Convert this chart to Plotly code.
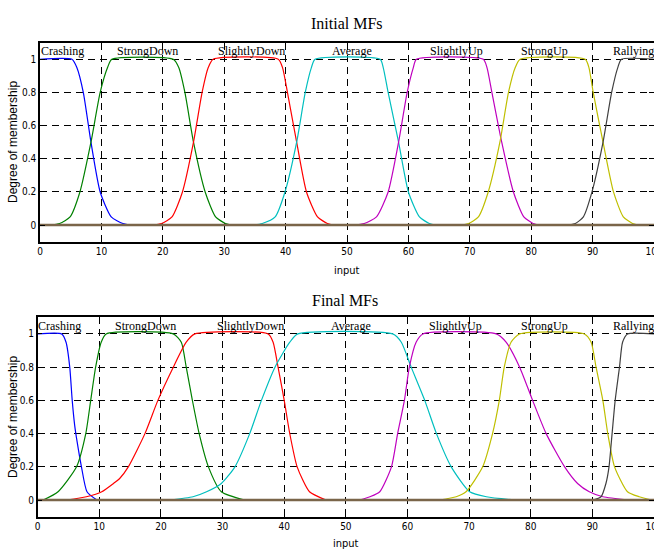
import plotly.graph_objects as go

# ---------------- data ----------------
mf_names = ["Crashing", "StrongDown", "SlightlyDown", "Average", "SlightlyUp", "StrongUp", "Rallying"]
mf_colors = ["#0000ff", "#008000", "#ff0000", "#00bfbf", "#bf00bf", "#bfbf00", "#404040"]
label_x = [3.6, 17.5, 34.5, 50.8, 67.8, 82.2, 96.6]

# Initial MFs (support region; outside it every MF is 0)
init_crashing_x = [0, 5.2, 6.0, 7.05, 8.3, 9.8, 11.6, 13.5, 15]
init_crashing_y = [1, 1, 0.95, 0.8, 0.5, 0.2, 0.05, 0.01, 0]
init_strongdown_x = [1.6, 3.2, 4.9, 6.5, 8.3, 9.8, 11.0, 11.7, 21.7, 22.6, 23.6, 25.0, 26.9, 28.6, 30.2, 31.5]
init_strongdown_y = [0, 0.01, 0.05, 0.2, 0.5, 0.8, 0.95, 1, 1, 0.95, 0.8, 0.5, 0.2, 0.05, 0.01, 0]
init_slightlydown_x = [18.2, 19.8, 21.5, 23.2, 25.0, 26.4, 27.4, 28.2, 38.8, 39.5, 40.3, 41.8, 43.4, 45.2, 46.8, 48]
init_slightlydown_y = [0, 0.01, 0.05, 0.2, 0.5, 0.8, 0.95, 1, 1, 0.95, 0.8, 0.5, 0.2, 0.05, 0.01, 0]
init_average_x = [34.7, 36.2, 38.3, 39.9, 41.8, 43.2, 44.2, 44.8, 55.4, 55.9, 56.7, 58.4, 60.0, 61.8, 63.4, 64.6]
init_average_y = [0, 0.01, 0.05, 0.2, 0.5, 0.8, 0.95, 1, 1, 0.95, 0.8, 0.5, 0.2, 0.05, 0.01, 0]
init_slightlyup_x = [51, 52.8, 54.8, 56.7, 58.4, 59.8, 60.8, 61.3, 72.2, 72.8, 73.6, 75.2, 77.1, 78.8, 80.3, 81.5]
init_slightlyup_y = [0, 0.01, 0.05, 0.2, 0.5, 0.8, 0.95, 1, 1, 0.95, 0.8, 0.5, 0.2, 0.05, 0.01, 0]
init_strongup_x = [68.4, 69.8, 71.4, 73.0, 74.9, 76.3, 77.4, 78.2, 88.8, 89.4, 90.1, 91.7, 93.4, 95.0, 96.5, 97.7]
init_strongup_y = [0, 0.01, 0.05, 0.2, 0.5, 0.8, 0.95, 1, 1, 0.95, 0.8, 0.5, 0.2, 0.05, 0.01, 0]
init_rallying_x = [85.8, 87.2, 88.5, 89.9, 91.7, 93.1, 94.1, 94.7, 100]
init_rallying_y = [0, 0.01, 0.05, 0.2, 0.5, 0.8, 0.95, 1, 1]

# Final MFs
final_crashing_x = [0, 3.9, 4.6, 5.2, 5.6, 6.0, 6.4, 7.1, 8.0, 9.6]
final_crashing_y = [1, 1, 0.95, 0.8, 0.6, 0.45, 0.35, 0.2, 0.05, 0]
final_strongdown_x = [0.9, 3.3, 6.3, 7.8, 8.6, 9.4, 10.3, 11.1, 22.0, 23.3, 24.1, 25.1, 26.2, 27.7, 29.8, 33.6]
final_strongdown_y = [0, 0.05, 0.2, 0.4, 0.6, 0.8, 0.95, 1, 1, 0.95, 0.8, 0.6, 0.4, 0.2, 0.05, 0]
final_slightlydown_x = [4.7, 7.9, 10.4, 12.3, 13.3, 14.7, 17.4, 19.5, 22.0, 24.1, 25.5, 37.4, 38.2, 39.0, 40.0, 40.9, 42.1, 44.1, 46.8]
final_slightlydown_y = [0, 0.02, 0.05, 0.1, 0.13, 0.2, 0.4, 0.6, 0.8, 0.95, 1, 1, 0.95, 0.8, 0.6, 0.4, 0.2, 0.05, 0]
final_average_x = [21.4, 25.2, 27.4, 29.8, 32.0, 34.4, 36.3, 38.5, 40.9, 42.2, 57.6, 59.0, 60.6, 62.8, 64.7, 67.1, 70.1, 72.8, 77.6]
final_average_y = [0, 0.02, 0.05, 0.1, 0.2, 0.4, 0.6, 0.8, 0.95, 1, 1, 0.95, 0.8, 0.6, 0.4, 0.2, 0.05, 0.02, 0]
final_slightlyup_x = [52.2, 53.9, 55.5, 57.4, 58.4, 59.5, 60.3, 61.4, 62.5, 74.4, 76.0, 78.2, 80.3, 82.5, 85.5, 87.6, 89.5, 91.7, 96.0]
final_slightlyup_y = [0, 0.02, 0.05, 0.2, 0.4, 0.6, 0.8, 0.95, 1, 1, 0.95, 0.8, 0.6, 0.4, 0.2, 0.1, 0.05, 0.02, 0]
final_strongup_x = [65.2, 67.9, 69.5, 72.2, 73.8, 74.9, 75.7, 76.8, 78.2, 88.7, 89.8, 90.6, 91.7, 92.5, 93.6, 95.7, 97.6, 99.7]
final_strongup_y = [0, 0.02, 0.05, 0.2, 0.4, 0.6, 0.8, 0.95, 1, 1, 0.95, 0.8, 0.6, 0.4, 0.2, 0.05, 0.02, 0]
final_rallying_x = [90.1, 91.4, 92.2, 92.7, 93.2, 93.7, 94.4, 94.9, 95.7, 100]
final_rallying_y = [0, 0.02, 0.1, 0.2, 0.4, 0.6, 0.8, 0.95, 1, 1]

# where all MFs overlap at zero
zero_x = [0, 100]
zero_y = [0, 0]

xtick_vals = [0, 10, 20, 30, 40, 50, 60, 70, 80, 90, 100]
xtick_text = ["0", "10", "20", "30", "40", "50", "60", "70", "80", "90", "100"]
ytick_vals = [0, 0.2, 0.4, 0.6, 0.8, 1]
ytick_text = ["0", "0.2", "0.4", "0.6", "0.8", "1"]

init_sets = [
    (init_crashing_x, init_crashing_y), (init_strongdown_x, init_strongdown_y),
    (init_slightlydown_x, init_slightlydown_y), (init_average_x, init_average_y),
    (init_slightlyup_x, init_slightlyup_y), (init_strongup_x, init_strongup_y),
    (init_rallying_x, init_rallying_y),
]
final_sets = [
    (final_crashing_x, final_crashing_y), (final_strongdown_x, final_strongdown_y),
    (final_slightlydown_x, final_slightlydown_y), (final_average_x, final_average_y),
    (final_slightlyup_x, final_slightlyup_y), (final_strongup_x, final_strongup_y),
    (final_rallying_x, final_rallying_y),
]

# ---------------- figure ----------------
W, H = 654, 550
fig = go.Figure()

for sets, xa, ya in [(init_sets, "x", "y"), (final_sets, "x2", "y2")]:
    for (xs, ys), name, col in zip(sets, mf_names, mf_colors):
        fig.add_trace(go.Scatter(x=xs, y=ys, mode="lines", name=name,
                                 line=dict(color=col, width=1.2, shape="spline", smoothing=0.6),
                                 xaxis=xa, yaxis=ya, showlegend=False, hoverinfo="skip"))
    fig.add_trace(go.Scatter(x=zero_x, y=zero_y, mode="lines",
                             line=dict(color="#7a6549", width=2.5),
                             xaxis=xa, yaxis=ya, showlegend=False, hoverinfo="skip"))

sans = "Liberation Sans Narrow, DejaVu Sans Condensed, Liberation Sans, sans-serif"
serif = "Liberation Serif, Times New Roman, serif"
tickfont = dict(family=sans, size=10, color="black")
axis_common = dict(showline=True, linecolor="black", linewidth=1.5, mirror="ticks",
                   ticks="inside", ticklen=5, tickcolor="black", tickwidth=1,
                   showgrid=True, gridcolor="black", gridwidth=1, griddash="7px,5px",
                   zeroline=False, tickfont=tickfont, automargin=False)


def dom_x(a, b):
    return [a / W, b / W]


def dom_y(top, bottom):
    return [1 - bottom / H, 1 - top / H]


fig.update_layout(
    width=W, height=H,
    margin=dict(l=0, r=0, t=0, b=0),
    paper_bgcolor="white", plot_bgcolor="white",
    template="none",
    xaxis=dict(domain=dom_x(40, 654), range=[0, 100], tickvals=xtick_vals, ticktext=xtick_text,
               anchor="y", ticklabeloverflow="allow", **axis_common),
    yaxis=dict(domain=dom_y(42.7, 241.7), range=[-0.1, 1.1], tickvals=ytick_vals, ticktext=ytick_text,
               anchor="x", **axis_common),
    xaxis2=dict(domain=dom_x(37.7, 654), range=[0, 100], tickvals=xtick_vals, ticktext=xtick_text,
                anchor="y2", ticklabeloverflow="allow", **axis_common),
    yaxis2=dict(domain=dom_y(317.3, 516.7), range=[-0.1, 1.1], tickvals=ytick_vals, ticktext=ytick_text,
                anchor="x2", **axis_common),
)

ann = []
for xa, ya in [("x", "y"), ("x2", "y2")]:
    for name, lx in zip(mf_names, label_x):
        ann.append(dict(x=lx, y=1.05, xref=xa, yref=ya, text=name, showarrow=False,
                        font=dict(family=serif, size=12, color="black"),
                        xanchor="center", yanchor="middle"))

ann.append(dict(x=347 / W, y=1 - 23 / H, xref="paper", yref="paper", text="Initial MFs", showarrow=False,
                font=dict(family=serif, size=16, color="black"), xanchor="center", yanchor="middle"))
ann.append(dict(x=345 / W, y=1 - 300 / H, xref="paper", yref="paper", text="Final MFs", showarrow=False,
                font=dict(family=serif, size=16, color="black"), xanchor="center", yanchor="middle"))
ann.append(dict(x=347 / W, y=1 - 270 / H, xref="paper", yref="paper", text="input", showarrow=False,
                font=dict(family=sans, size=11, color="black"), xanchor="center", yanchor="middle"))
ann.append(dict(x=346 / W, y=1 - 543 / H, xref="paper", yref="paper", text="input", showarrow=False,
                font=dict(family=sans, size=11, color="black"), xanchor="center", yanchor="middle"))
for yc in (142, 417):
    ann.append(dict(x=13 / W, y=1 - yc / H, xref="paper", yref="paper", text="Degree of membership",
                    showarrow=False, textangle=-90,
                    font=dict(family="Liberation Sans, sans-serif", size=12, color="black"),
                    xanchor="center", yanchor="middle"))
fig.update_layout(annotations=ann)

fig.write_html("out.html")
